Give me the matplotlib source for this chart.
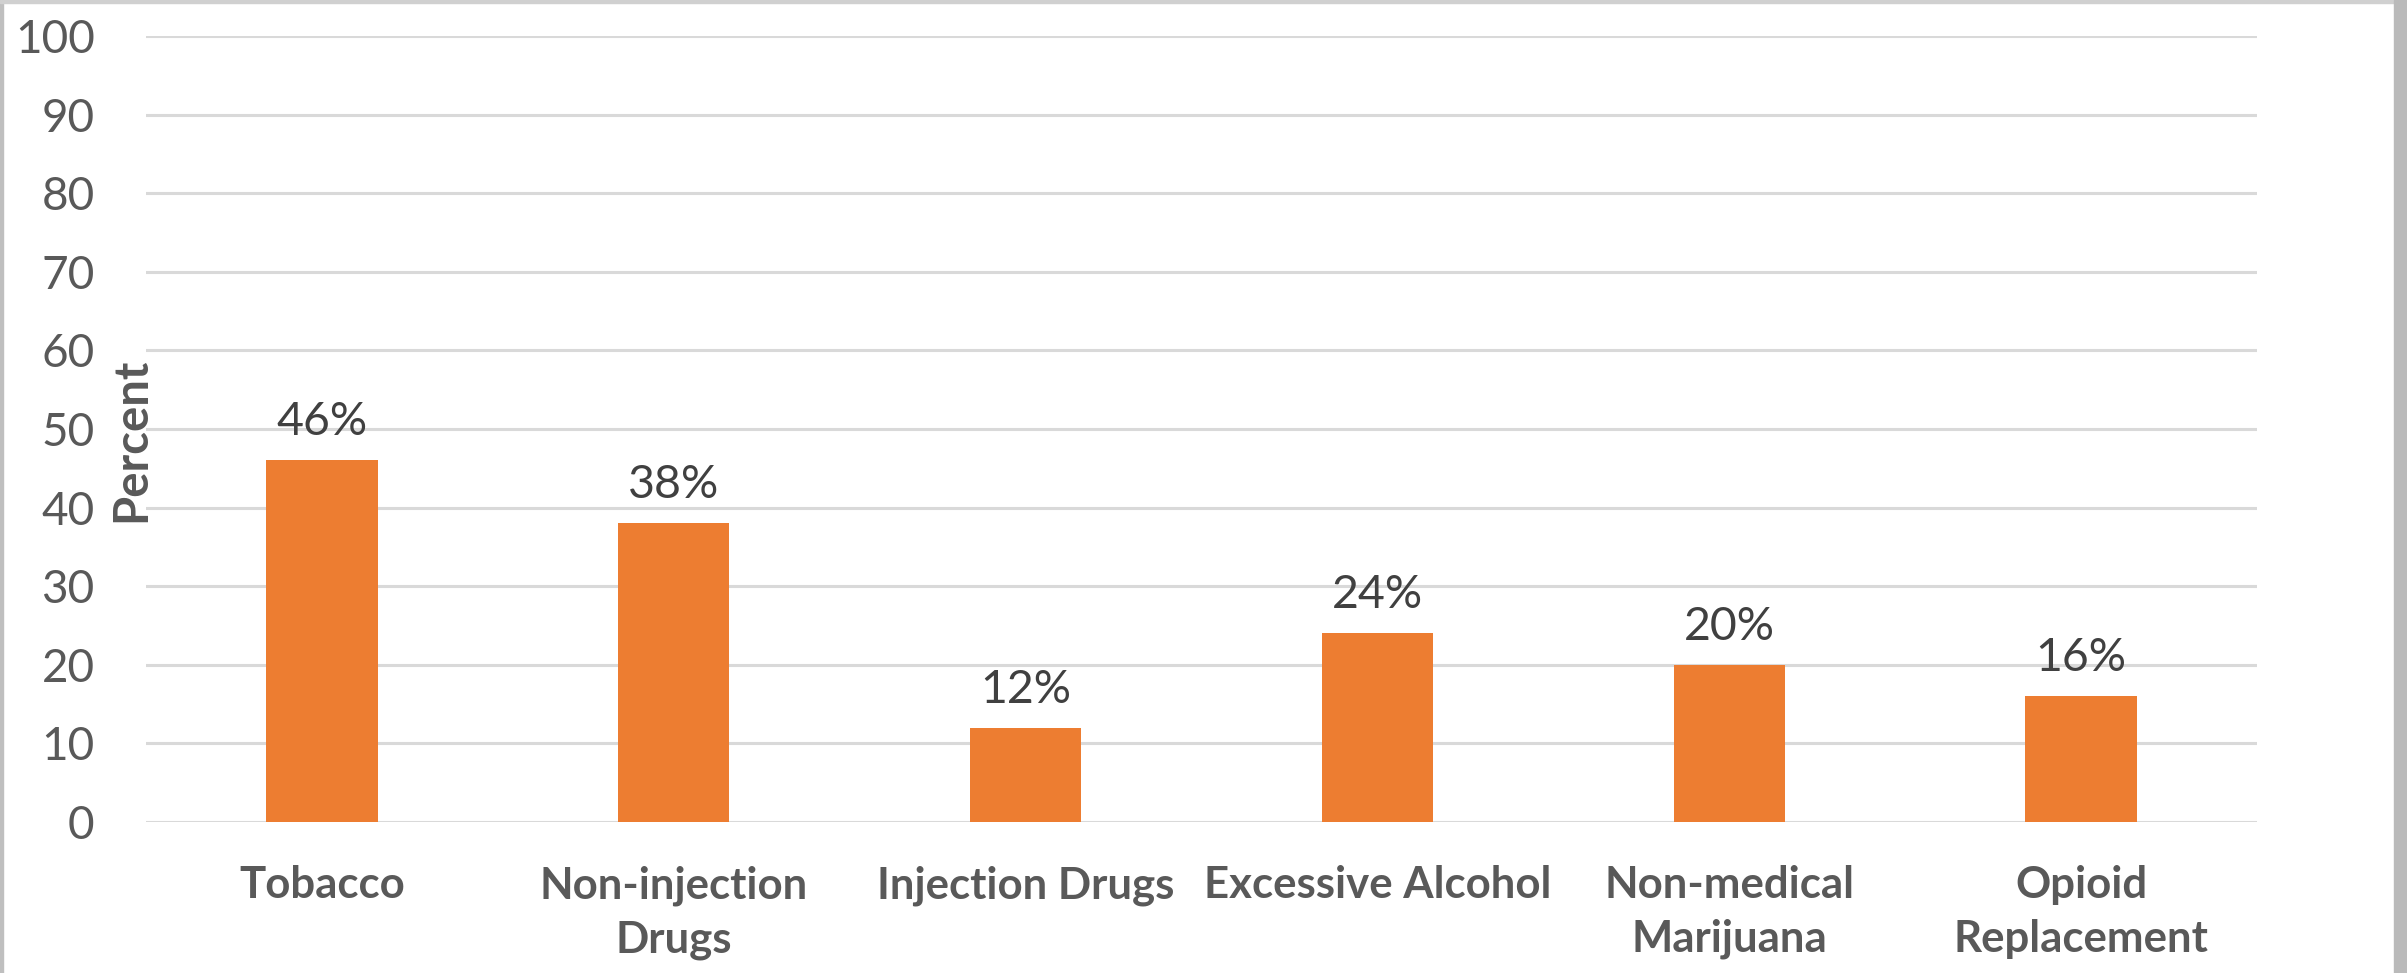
import matplotlib.pyplot as plt
from matplotlib.patches import Rectangle

# DATA

categories = ["Tobacco", "Non-injection\nDrugs", "Injection Drugs",
              "Excessive Alcohol", "Non-medical\nMarijuana", "Opioid\nReplacement"]
percent = [46, 38, 12, 24, 20, 16]
y_ticks = list(range(0, 101, 10))


# STYLE

plt.rcParams['font.family'] = ['Lato', 'DejaVu Sans']
bar_color = "#ED7D31"
tick_color = "#595959"
label_color = "#404040"
grid_color = "#D9D9D9"

W, H, DPI = 2407, 973, 100
fig = plt.figure(figsize=(W / DPI, H / DPI), dpi=DPI)
ax = fig.add_axes([146 / W, 1 - 822 / H, (2257 - 146) / W, (822 - 36) / H])

x = list(range(len(categories)))
ax.bar(x, percent, width=0.316, color=bar_color, zorder=3)

for xi, v in zip(x, percent):
    ax.annotate(f"{v}%", (xi, v), xytext=(0, 18), textcoords="offset points",
                ha="center", va="baseline", fontsize=33.5, color=label_color)

ax.set_xlim(-0.5, len(categories) - 0.5)
ax.set_ylim(0, 100)
ax.set_yticks(y_ticks)
ax.set_xticks(x)
ax.set_xticklabels(categories, fontsize=31.5, fontweight="bold",
                   color=tick_color, linespacing=1.42)
ax.tick_params(axis="y", length=0, pad=37, labelsize=33, labelcolor=tick_color)
ax.tick_params(axis="x", length=0, pad=31)
ax.grid(axis="y", color=grid_color, linewidth=2.2, zorder=0)
for s in ax.spines.values():
    s.set_visible(False)

fig.text(131 / W, 1 - 440 / H, "Percent", rotation=90, ha="center", va="center",
         fontsize=34, fontweight="bold", color=tick_color)

# FRAME EDGES
fig.patches.append(Rectangle((0, 0), 3 / W, 1, transform=fig.transFigure,
                             color="#BFBFBF", zorder=0))
fig.patches.append(Rectangle((0, 1 - 3 / H), 1, 3 / H, transform=fig.transFigure,
                             color="#D0D0D0", zorder=0))
fig.patches.append(Rectangle((2394 / W, 0), 13 / W, 1, transform=fig.transFigure,
                             color="#BABABA", zorder=0))

fig.savefig("out.png", dpi=DPI)
